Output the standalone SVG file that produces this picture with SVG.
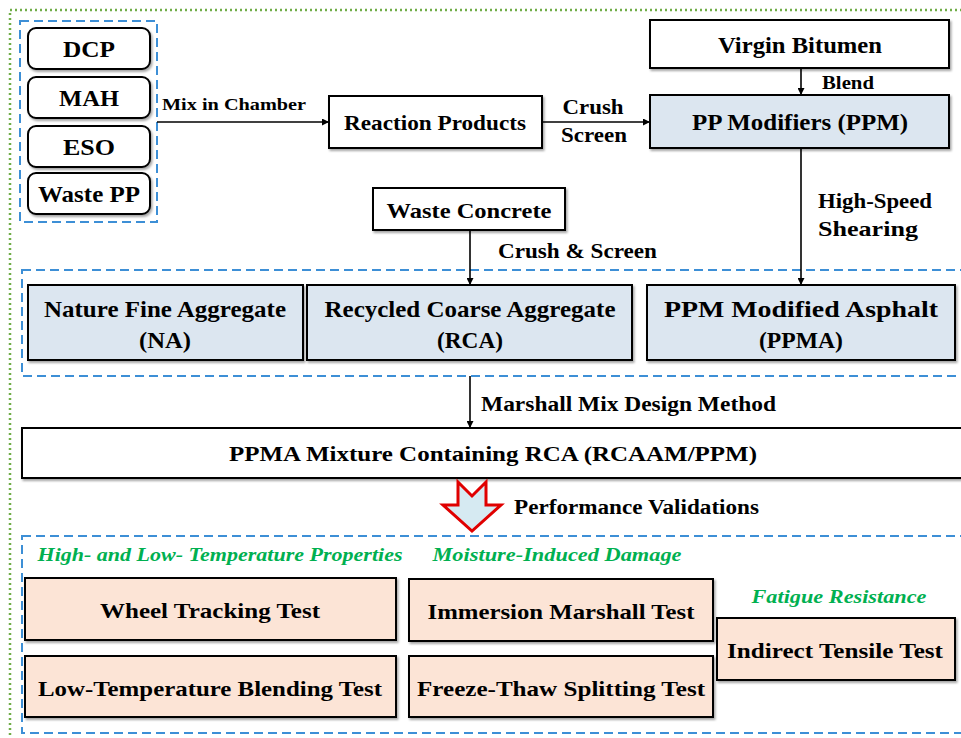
<svg xmlns="http://www.w3.org/2000/svg" width="961" height="738" viewBox="0 0 961 738">
<style>
text{font-family:"Liberation Serif","Times New Roman",serif;font-weight:bold;fill:#000;text-anchor:middle;dominant-baseline:central}
.box{fill:#fff;stroke:#000;stroke-width:2;filter:url(#sh)}
.blue{fill:#dce6f0;stroke:#000;stroke-width:2;filter:url(#sh)}
.peach{fill:#fce4d6;stroke:#000;stroke-width:2;filter:url(#sh)}
.dash{fill:none;stroke:#3d8fd6;stroke-width:2;stroke-dasharray:9 5}
.green{fill:#00b050;font-style:italic}
.conn{stroke:#000;stroke-width:1.6;fill:none;marker-end:url(#ah)}
.lbl{text-anchor:start}
</style>
<defs>
<marker id="ah" viewBox="0 0 10 10" refX="10" refY="5" markerWidth="7" markerHeight="7" orient="auto" markerUnits="userSpaceOnUse"><path d="M0,0L10,5L0,10z" fill="#000"/></marker>
<filter id="sh" x="-5%" y="-5%" width="110%" height="130%"><feDropShadow dx="1.5" dy="2" stdDeviation="1.2" flood-color="#000" flood-opacity="0.35"/></filter>
</defs>
<rect width="961" height="738" fill="#fff"/>
<rect x="10" y="10" width="980" height="760" fill="none" stroke="#70ad47" stroke-width="2.5" stroke-dasharray="2 3"/>
<rect class="dash" x="20" y="21" width="137" height="201"/>
<rect class="dash" x="22" y="270" width="960" height="106"/>
<rect class="dash" x="22" y="536" width="960" height="197"/>

<g id="dcp"><rect class="box" x="28" y="28" width="122" height="41" rx="8"/><text x="89" y="49" font-size="24" textLength="52" lengthAdjust="spacingAndGlyphs">DCP</text></g>
<g id="mah"><rect class="box" x="28" y="77" width="122" height="41" rx="8"/><text x="89" y="98" font-size="24" textLength="60" lengthAdjust="spacingAndGlyphs">MAH</text></g>
<g id="eso"><rect class="box" x="28" y="126" width="122" height="41" rx="8"/><text x="89" y="147" font-size="24" textLength="52" lengthAdjust="spacingAndGlyphs">ESO</text></g>
<g id="wastepp"><rect class="box" x="28" y="173" width="122" height="41" rx="8"/><text x="89" y="194" font-size="24" textLength="102" lengthAdjust="spacingAndGlyphs">Waste PP</text></g>

<g id="reaction"><rect class="box" x="329" y="96" width="213" height="52"/><text x="435" y="122" font-size="22" textLength="182" lengthAdjust="spacingAndGlyphs">Reaction Products</text></g>
<g id="virgin"><rect class="box" x="650" y="20" width="299" height="48"/><text x="800" y="45" font-size="23" textLength="164" lengthAdjust="spacingAndGlyphs">Virgin Bitumen</text></g>
<g id="ppm"><rect class="blue" x="650" y="95" width="299" height="53"/><text x="800" y="122" font-size="24" textLength="216" lengthAdjust="spacingAndGlyphs">PP Modifiers (PPM)</text></g>
<g id="concrete"><rect class="box" x="373" y="188" width="192" height="42"/><text x="469" y="210" font-size="22" textLength="165" lengthAdjust="spacingAndGlyphs">Waste Concrete</text></g>

<g id="na"><rect class="blue" x="28" y="285" width="275" height="75"/><text x="165" y="309" font-size="24" textLength="242" lengthAdjust="spacingAndGlyphs">Nature Fine Aggregate</text><text x="165" y="340" font-size="24" textLength="52" lengthAdjust="spacingAndGlyphs">(NA)</text></g>
<g id="rca"><rect class="blue" x="307" y="285" width="325" height="75"/><text x="470" y="309" font-size="24" textLength="291" lengthAdjust="spacingAndGlyphs">Recycled Coarse Aggregate</text><text x="470" y="340" font-size="24" textLength="66" lengthAdjust="spacingAndGlyphs">(RCA)</text></g>
<g id="ppma"><rect class="blue" x="647" y="285" width="308" height="75"/><text x="801" y="309" font-size="24" textLength="274" lengthAdjust="spacingAndGlyphs">PPM Modified Asphalt</text><text x="801" y="340" font-size="24" textLength="84" lengthAdjust="spacingAndGlyphs">(PPMA)</text></g>

<g id="mixture"><rect class="box" x="22" y="428" width="960" height="50"/><text x="493" y="453" font-size="22" textLength="528" lengthAdjust="spacingAndGlyphs">PPMA Mixture Containing RCA (RCAAM/PPM)</text></g>

<g id="wheel"><rect class="peach" x="25" y="578" width="371" height="62"/><text x="210" y="610" font-size="22" textLength="220" lengthAdjust="spacingAndGlyphs">Wheel Tracking Test</text></g>
<g id="lowtemp"><rect class="peach" x="25" y="656" width="371" height="61"/><text x="210" y="688" font-size="22" textLength="344" lengthAdjust="spacingAndGlyphs">Low-Temperature Blending Test</text></g>
<g id="immersion"><rect class="peach" x="409" y="579" width="304" height="62"/><text x="561" y="611" font-size="22" textLength="267" lengthAdjust="spacingAndGlyphs">Immersion Marshall Test</text></g>
<g id="freeze"><rect class="peach" x="409" y="656" width="304" height="61"/><text x="561" y="688" font-size="22" textLength="288" lengthAdjust="spacingAndGlyphs">Freeze-Thaw Splitting Test</text></g>
<g id="indirect"><rect class="peach" x="717" y="618" width="238" height="62"/><text x="835" y="650" font-size="22" textLength="216" lengthAdjust="spacingAndGlyphs">Indirect Tensile Test</text></g>

<text class="green" x="220" y="554" font-size="19" textLength="365" lengthAdjust="spacingAndGlyphs">High- and Low- Temperature Properties</text>
<text class="green" x="557" y="554" font-size="19" textLength="249" lengthAdjust="spacingAndGlyphs">Moisture-Induced Damage</text>
<text class="green" x="839" y="596" font-size="19" textLength="175" lengthAdjust="spacingAndGlyphs">Fatigue Resistance</text>

<g id="connectors">
<line class="conn" x1="157" y1="122" x2="329" y2="122"/>
<line class="conn" x1="542" y1="122" x2="650" y2="122"/>
<line class="conn" x1="801" y1="68" x2="801" y2="95"/>
<line class="conn" x1="801" y1="148" x2="801" y2="285"/>
<line class="conn" x1="470" y1="230" x2="470" y2="285"/>
<line class="conn" x1="470" y1="376" x2="470" y2="428"/>
<path id="bigarrow" d="M458,482L472,496L486,482L486,505L501,505L472,531L443,505L458,505Z" fill="#d6eaf2" stroke="#e00000" stroke-width="3" stroke-linejoin="miter"/>
</g>
<g id="labels">
<text class="lbl" x="162" y="104" font-size="17" textLength="144" lengthAdjust="spacingAndGlyphs">Mix in Chamber</text>
<text x="593" y="106" font-size="22" textLength="61" lengthAdjust="spacingAndGlyphs">Crush</text>
<text x="594" y="134" font-size="22" textLength="66" lengthAdjust="spacingAndGlyphs">Screen</text>
<text class="lbl" x="822" y="83" font-size="18" textLength="52" lengthAdjust="spacingAndGlyphs">Blend</text>
<text x="875" y="200" font-size="22" textLength="114" lengthAdjust="spacingAndGlyphs">High-Speed</text>
<text x="868" y="228" font-size="22" textLength="100" lengthAdjust="spacingAndGlyphs">Shearing</text>
<text class="lbl" x="498" y="251" font-size="20" textLength="159" lengthAdjust="spacingAndGlyphs">Crush &amp; Screen</text>
<text class="lbl" x="481" y="404" font-size="20" textLength="295" lengthAdjust="spacingAndGlyphs">Marshall Mix Design Method</text>
<text class="lbl" x="514" y="507" font-size="20" textLength="245" lengthAdjust="spacingAndGlyphs">Performance Validations</text>
</g>
</svg>
